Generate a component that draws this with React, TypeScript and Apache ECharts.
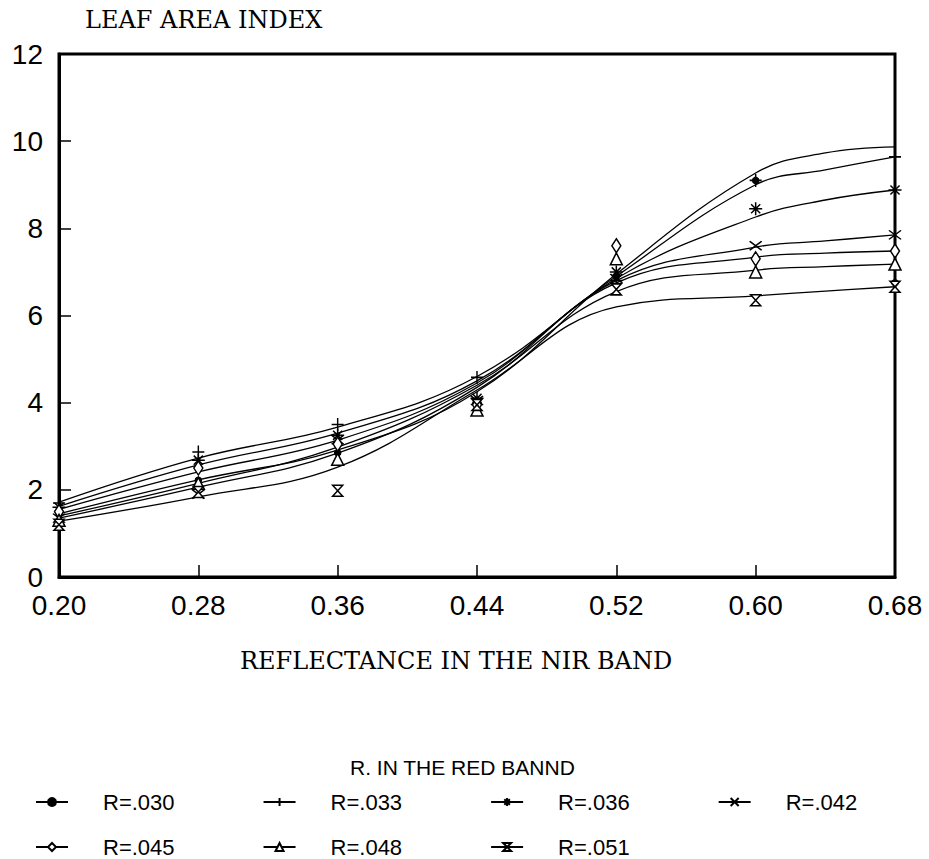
import React, { useEffect, useRef } from "react";
import * as echarts from "echarts";

const nirTicks = [0.2, 0.28, 0.36, 0.44, 0.52, 0.6, 0.68];
const yTicks = [0, 2, 4, 6, 8, 10, 12];
const curveX = [0.2, 0.28, 0.36, 0.44, 0.52, 0.6, 0.64, 0.68];

const seriesNames = ["R=.030", "R=.033", "R=.036", "R=.042", "R=.045", "R=.048", "R=.051"];

const fit030 = [1.45, 2.23, 2.91, 4.25, 6.95, 9.27, 9.73, 9.87];
const fit033 = [1.72, 2.73, 3.44, 4.6, 6.9, 9.0, 9.34, 9.64];
const fit036 = [1.62, 2.57, 3.3, 4.5, 6.85, 8.26, 8.65, 8.88];
const fit042 = [1.35, 2.06, 2.84, 4.35, 6.8, 7.57, 7.71, 7.85];
const fit045 = [1.55, 2.41, 3.14, 4.45, 6.75, 7.34, 7.43, 7.48];
const fit048 = [1.4, 2.15, 2.98, 4.4, 6.55, 7.04, 7.12, 7.18];
const fit051 = [1.28, 1.84, 2.52, 4.29, 6.2, 6.45, 6.56, 6.66];

const obs030 = [1.45, 2.22, 2.85, 4.0, 6.9, 9.1, 6.75];
const obs033 = [1.7, 2.87, 3.5, 4.58, 6.8, 9.1, 9.64];
const obs036 = [1.6, 2.68, 3.25, 4.1, 7.0, 8.45, 8.88];
const obs042 = [1.35, 1.9, 3.15, 4.05, 6.85, 7.6, 7.85];
const obs045 = [1.5, 2.5, 3.05, 3.95, 7.6, 7.3, 7.48];
const obs048 = [1.3, 2.15, 2.7, 3.83, 7.3, 7.0, 7.18];
const obs051 = [1.2, 1.95, 1.98, 3.95, 6.6, 6.35, 6.66];

const fits = [fit030, fit033, fit036, fit042, fit045, fit048, fit051];
const obs = [obs030, obs033, obs036, obs042, obs045, obs048, obs051];

const symbols: any[] = [
  { symbol: "circle", size: 6, fill: "#000" },
  { symbol: "path://M5,0L5,10M0,5L10,5", size: [12, 13], fill: "#000" },
  { symbol: "path://M5,0L5,10M0,5L10,5M1.5,1.5L8.5,8.5M8.5,1.5L1.5,8.5", size: 13, fill: "#000" },
  { symbol: "path://M0,0L10,10M10,0L0,10", size: [12, 9], fill: "#000" },
  { symbol: "diamond", size: [9, 14], fill: "#fff" },
  { symbol: "triangle", size: [12, 12], fill: "#fff" },
  { symbol: "path://M0,0L10,0L0,10L10,10Z", size: [10, 11], fill: "#fff" },
];

const SANS = "'Liberation Sans', Arial, Helvetica, sans-serif";
const SERIF = "'DejaVu Serif', 'Liberation Serif', serif";

export default function App() {
  const ref = useRef<HTMLDivElement>(null);
  useEffect(() => {
    if (!ref.current) return;
    const chart = echarts.init(ref.current, undefined, { renderer: "svg" });
    const series: any[] = [];
    seriesNames.forEach((name, i) => {
      const s = symbols[i];
      series.push({
        name,
        type: "line",
        data: curveX.map((x, j) => [x, fits[i][j]]),
        smooth: 0.4,
        showSymbol: false,
        symbol: s.symbol,
        symbolSize: s.size,
        itemStyle: { color: s.fill, borderColor: "#000", borderWidth: 1.4 },
        lineStyle: { color: "#000", width: 1.3 },
        emphasis: { disabled: true },
        silent: true,
        z: 2,
      });
    });
    seriesNames.forEach((name, i) => {
      const s = symbols[i];
      series.push({
        name: name + " obs",
        type: "scatter",
        data: nirTicks.map((x, j) => [x, obs[i][j]]),
        symbol: s.symbol,
        symbolSize: s.size,
        itemStyle: { color: s.fill, borderColor: "#000", borderWidth: 1.5, opacity: 1 },
        emphasis: { disabled: true },
        silent: true,
        z: 3,
      });
    });
    const legendCommon = {
      orient: "horizontal",
      itemWidth: 32,
      itemHeight: 10,
      itemGap: 88,
      selectedMode: false,
      textStyle: {
        fontFamily: SANS,
        fontSize: 22,
        color: "#000",
        padding: [0, 0, 0, 30],
      },
    };
    chart.setOption({
      animation: false,
      backgroundColor: "#fff",
      grid: {
        left: 59,
        right: 34,
        top: 54,
        bottom: 282,
        show: true,
        borderColor: "#000",
        borderWidth: 3,
        backgroundColor: "transparent",
      },
      xAxis: {
        type: "value",
        min: 0.2,
        max: 0.68,
        axisLine: { show: true, lineStyle: { color: "#000", width: 3 } },
        axisTick: {
          show: true,
          inside: true,
          length: 12,
          lineStyle: { color: "#000", width: 1.5 },
          customValues: nirTicks,
        },
        axisLabel: {
          customValues: nirTicks,
          formatter: (v: number) => v.toFixed(2),
          fontFamily: SANS,
          fontSize: 28,
          color: "#000",
          margin: 14,
        },
        splitLine: { show: false },
      },
      yAxis: {
        type: "value",
        min: 0,
        max: 12,
        interval: 2,
        axisLine: { show: true, lineStyle: { color: "#000", width: 3 } },
        axisTick: {
          show: true,
          inside: true,
          length: 12,
          lineStyle: { color: "#000", width: 1.5 },
          customValues: yTicks,
        },
        axisLabel: {
          customValues: yTicks,
          fontFamily: SANS,
          fontSize: 28,
          color: "#000",
          margin: 16,
        },
        splitLine: { show: false },
      },
      legend: [
        {
          ...legendCommon,
          data: seriesNames.slice(0, 4),
          left: 30,
          top: 786,
        },
        {
          ...legendCommon,
          data: seriesNames.slice(4),
          left: 30,
          top: 831,
        },
      ],
      graphic: [
        {
          type: "text",
          left: 85,
          top: 8,
          style: { text: "LEAF AREA INDEX", font: `24px ${SERIF}`, fill: "#000" },
        },
        {
          type: "text",
          left: 240,
          top: 649,
          style: { text: "REFLECTANCE IN THE NIR BAND", font: `24px ${SERIF}`, fill: "#000" },
        },
        {
          type: "text",
          left: 350,
          top: 757,
          style: { text: "R. IN THE RED BANND", font: `21px ${SANS}`, fill: "#000" },
        },
      ],
      series,
    });
    return () => chart.dispose();
  }, []);
  return <div ref={ref} style={{ width: 929, height: 859, position: "absolute", left: 0, top: 0 }} />;
}
